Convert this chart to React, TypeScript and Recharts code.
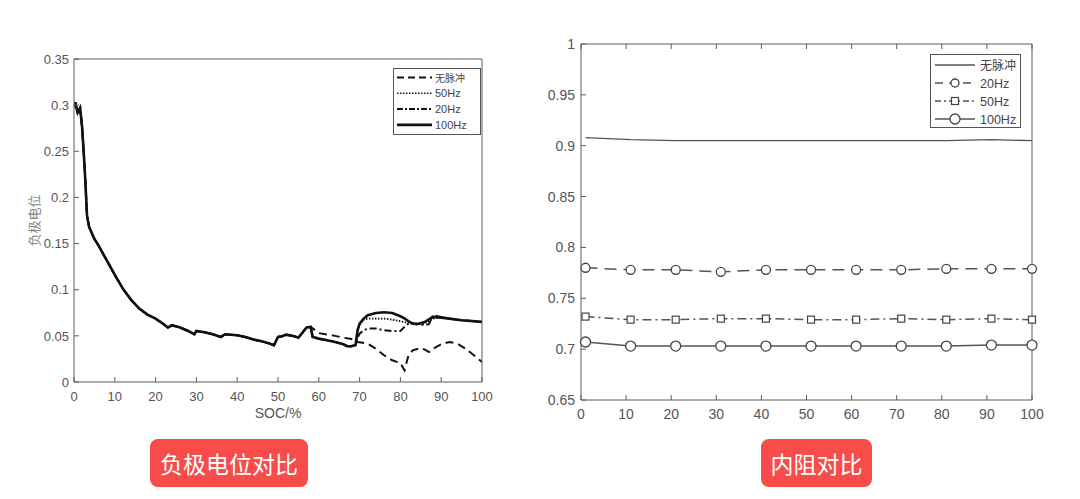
import React from 'react';
import { LineChart, Line, XAxis, YAxis, Legend } from 'recharts';

// ---- left chart: 负极电位 vs SOC ----
const SOC_COMMON = [0, 0.3, 0.9, 1.5, 2, 2.6, 3.2, 3.7, 5, 6, 8, 10, 12, 14, 16, 18, 20, 22, 23, 24, 26, 28, 29.5, 30, 32, 34, 36, 37, 40, 42, 44, 46, 48, 49, 50, 51, 52, 54, 55, 57, 58, 58.5, 60, 62, 64, 66, 67, 68, 69];
const NEG_COMMON = [0.298, 0.303, 0.292, 0.297, 0.275, 0.233, 0.18, 0.168, 0.155, 0.148, 0.132, 0.116, 0.101, 0.089, 0.0795, 0.073, 0.0687, 0.0626, 0.059, 0.0615, 0.059, 0.0553, 0.0517, 0.0553, 0.054, 0.0517, 0.0488, 0.0517, 0.0506, 0.0488, 0.046, 0.0441, 0.0416, 0.0398, 0.0488, 0.0495, 0.0513, 0.0495, 0.048, 0.059, 0.0597, 0.0488, 0.047, 0.0452, 0.0434, 0.0409, 0.0387, 0.0387, 0.04];

// 无脉冲 leaves the common curve at ~58%
const SOC_NOPULSE = [60, 62, 64, 66, 68, 69, 70, 72, 74, 76, 78, 80, 81, 82, 83, 85, 86, 87, 88, 90, 92, 94, 96, 98, 100];
const V_NOPULSE = [0.053, 0.0515, 0.05, 0.048, 0.0467, 0.043, 0.043, 0.0416, 0.036, 0.029, 0.0235, 0.0206, 0.0127, 0.029, 0.0343, 0.0369, 0.035, 0.0325, 0.036, 0.0409, 0.0434, 0.0416, 0.036, 0.029, 0.0217];

// pulsed runs split after ~69%
const SOC_PULSE = [69.5, 70, 71, 72, 74, 76, 78, 80, 81, 82, 83, 84, 86, 87, 88, 90, 92, 95, 100];
const V_100HZ = [0.056, 0.0633, 0.0687, 0.0723, 0.0748, 0.0756, 0.0748, 0.0712, 0.069, 0.0658, 0.0633, 0.0626, 0.0651, 0.068, 0.0705, 0.0698, 0.0687, 0.0669, 0.0651];
const V_50HZ = [0.055, 0.062, 0.0676, 0.0687, 0.0687, 0.0687, 0.0676, 0.0658, 0.065, 0.064, 0.063, 0.0626, 0.0633, 0.066, 0.0687, 0.0705, 0.0687, 0.0669, 0.0651];
const V_20HZ = [0.048, 0.0524, 0.056, 0.0579, 0.0579, 0.056, 0.0553, 0.0553, 0.0597, 0.0633, 0.0633, 0.0633, 0.0615, 0.0626, 0.0723, 0.0705, 0.0687, 0.0669, 0.0651];

const SOC_TICKS = [0, 10, 20, 30, 40, 50, 60, 70, 80, 90, 100];
const NEG_TICKS = [0, 0.05, 0.1, 0.15, 0.2, 0.25, 0.3, 0.35];

// ---- right chart: 内阻 ----
const CYCLE = [1, 11, 21, 31, 41, 51, 61, 71, 81, 91, 100];
const R_NONE = [0.908, 0.906, 0.905, 0.905, 0.905, 0.905, 0.905, 0.905, 0.905, 0.906, 0.905];
const R_20HZ = [0.78, 0.778, 0.778, 0.776, 0.778, 0.778, 0.778, 0.778, 0.779, 0.779, 0.779];
const R_50HZ = [0.732, 0.729, 0.729, 0.73, 0.73, 0.729, 0.729, 0.73, 0.729, 0.73, 0.729];
const R_100HZ = [0.707, 0.703, 0.703, 0.703, 0.703, 0.703, 0.703, 0.703, 0.703, 0.704, 0.704];
const R_TICKS = [0.65, 0.7, 0.75, 0.8, 0.85, 0.9, 0.95, 1];

const pts = (xs: number[], ys: number[]) => xs.map((x, i) => ({ x, y: ys[i] }));
const common = pts(SOC_COMMON, NEG_COMMON);
const noPulse = [...common.filter((p) => p.x <= 58), ...pts(SOC_NOPULSE, V_NOPULSE)];
const hz50 = [...common, ...pts(SOC_PULSE, V_50HZ)];
const hz20 = [...common, ...pts(SOC_PULSE, V_20HZ)];
const hz100 = [...common, ...pts(SOC_PULSE, V_100HZ)];

const resist = CYCLE.map((x, i) => ({ x, none: R_NONE[i], hz20: R_20HZ[i], hz50: R_50HZ[i], hz100: R_100HZ[i] }));

const FRAME = '#5c5c5c';
const LINE = { stroke: FRAME, strokeWidth: 1 };
const LATIN = '"Liberation Sans", Arial, sans-serif';
const CJK = '"Noto Sans CJK SC", sans-serif';
const TS = 5; // tick length (drawn inward, matlab style)

// recharts puts the label at axis +/- (tickSize + tickMargin); walk back to the axis and draw the mark inside
type Side = 'bottom' | 'left' | 'top' | 'right';
const inTick = (side: Side, margin: number, fontSize = 13) => (p: any) => {
  const { x, y, payload } = p;
  let line;
  let label = null;
  if (side === 'bottom') {
    const ay = y - TS - margin;
    line = <line x1={x} x2={x} y1={ay} y2={ay - TS} {...LINE} />;
    label = <text x={x} y={y} dy="0.71em" textAnchor="middle" fontSize={fontSize} fill="#555" fontFamily={LATIN}>{payload.value}</text>;
  } else if (side === 'left') {
    const ax = x + TS + margin;
    line = <line x1={ax} x2={ax + TS} y1={y} y2={y} {...LINE} />;
    label = <text x={x} y={y} dy="0.36em" textAnchor="end" fontSize={fontSize} fill="#555" fontFamily={LATIN}>{payload.value}</text>;
  } else if (side === 'top') {
    const ay = y + TS + margin;
    line = <line x1={x} x2={x} y1={ay} y2={ay + TS} {...LINE} />;
  } else {
    const ax = x - TS - margin;
    line = <line x1={ax} x2={ax - TS} y1={y} y2={y} {...LINE} />;
  }
  return <g>{line}{label}</g>;
};

function LeftLegend() {
  const rows = [
    { name: '无脉冲', dash: '7 4', w: 2, cjk: true },
    { name: '50Hz', dash: '1.5 1.5', w: 1.6, cjk: false },
    { name: '20Hz', dash: '6 2 2 2', w: 2, cjk: false },
    { name: '100Hz', dash: undefined, w: 2.6, cjk: false },
  ];
  return (
    <svg width={88} height={67} style={{ display: 'block' }}>
      <rect x={0.5} y={0.5} width={87} height={66} fill="#fff" stroke="#555" />
      {rows.map((r, i) => {
        const y = 9.5 + i * 15.8;
        return (
          <g key={r.name}>
            <line x1={4} x2={39} y1={y} y2={y} stroke="#111" strokeWidth={r.w} strokeDasharray={r.dash} />
            <text x={42} y={y + 4} fontSize={r.cjk ? 10 : 11} fill="#444" fontFamily={r.cjk ? CJK : LATIN}>{r.name}</text>
          </g>
        );
      })}
    </svg>
  );
}

function RightLegend() {
  const rows = [
    { name: '无脉冲', dash: undefined, mark: '' },
    { name: '20Hz', dash: '8 6', mark: 'c' },
    { name: '50Hz', dash: '6 3 2 3', mark: 's' },
    { name: '100Hz', dash: undefined, mark: 'C' },
  ];
  return (
    <svg width={91} height={74} style={{ display: 'block' }}>
      <rect x={0.5} y={0.5} width={90} height={73} fill="#fff" stroke="#555" />
      {rows.map((r, i) => {
        const y = 11 + i * 18;
        return (
          <g key={r.name}>
            <line x1={5} x2={45} y1={y} y2={y} stroke="#555" strokeWidth={1.3} strokeDasharray={r.dash} />
            {r.mark === 'c' && <circle cx={25} cy={y} r={4} fill="#fff" stroke="#444" strokeWidth={1.3} />}
            {r.mark === 'C' && <circle cx={25} cy={y} r={5} fill="#fff" stroke="#444" strokeWidth={1.3} />}
            {r.mark === 's' && <rect x={21.5} y={y - 3.5} width={7} height={7} fill="#fff" stroke="#444" strokeWidth={1.2} />}
            <text x={50} y={y + 4.5} fontSize={i === 0 ? 12 : 12.5} fill="#444" fontFamily={i === 0 ? CJK : LATIN}>{r.name}</text>
          </g>
        );
      })}
    </svg>
  );
}

const YLabel = ({ viewBox }: any) => {
  const cx = 33;
  const cy = viewBox.y + viewBox.height / 2;
  return (
    <text x={cx} y={cy} transform={`rotate(-90 ${cx} ${cy})`} textAnchor="middle" dominantBaseline="central"
      fontSize={13} fill="#888" fontFamily={CJK}>负极电位</text>
  );
};

const squareDot = (p: any) => (
  <rect key={`sq-${p.index}`} x={p.cx - 3.5} y={p.cy - 3.5} width={7} height={7} fill="#fff" stroke="#444" strokeWidth={1.2} />
);

const badge = (left: number, width: number): React.CSSProperties => ({
  position: 'absolute', left, top: 439, width, height: 48, borderRadius: 8, background: '#f84c4a',
  color: '#fff', fontFamily: CJK, fontSize: 23, display: 'flex', alignItems: 'center', justifyContent: 'center',
});

export default function App() {
  return (
    <div style={{ position: 'absolute', left: 0, top: 0, width: 1080, height: 499, background: '#fff', overflow: 'hidden' }}>
      <div style={{ position: 'absolute', left: 0, top: 0 }}>
        <LineChart width={500} height={430} margin={{ top: 58, right: 17, bottom: 0, left: 0 }}>
          <XAxis dataKey="x" type="number" domain={[0, 100]} ticks={SOC_TICKS} interval={0} height={48} tickSize={TS} tickMargin={5}
            tick={inTick('bottom', 5)} axisLine={LINE} tickLine={false} allowDataOverflow
            label={{ value: 'SOC/%', position: 'insideBottom', offset: 12, fontSize: 14, fill: '#555', fontFamily: LATIN }} />
          <XAxis xAxisId="top" orientation="top" dataKey="x" type="number" domain={[0, 100]} ticks={SOC_TICKS} interval={0} height={1}
            tickSize={TS} tickMargin={0} tick={inTick('top', 0)} axisLine={LINE} tickLine={false} />
          <YAxis type="number" domain={[0, 0.35]} ticks={NEG_TICKS} interval={0} width={74} tickSize={TS} tickMargin={0}
            tick={inTick('left', 0)} axisLine={LINE} tickLine={false} label={<YLabel />} />
          <YAxis yAxisId="right" orientation="right" type="number" domain={[0, 0.35]} ticks={NEG_TICKS} interval={0} width={1}
            tickSize={TS} tickMargin={0} tick={inTick('right', 0)} axisLine={LINE} tickLine={false} />
          <Legend content={<LeftLegend />} layout="horizontal" verticalAlign="middle" align="center"
            wrapperStyle={{ left: 393, top: 68, width: 88, height: 67 }} />
          <Line data={noPulse} dataKey="y" name="无脉冲" stroke="#111" strokeWidth={2} strokeDasharray="8 5" dot={false} isAnimationActive={false} />
          <Line data={hz50} dataKey="y" name="50Hz" stroke="#111" strokeWidth={1.8} strokeDasharray="1.5 1.5" dot={false} isAnimationActive={false} />
          <Line data={hz20} dataKey="y" name="20Hz" stroke="#111" strokeWidth={2} strokeDasharray="7 3 2 3" dot={false} isAnimationActive={false} />
          <Line data={hz100} dataKey="y" name="100Hz" stroke="#111" strokeWidth={2.6} dot={false} isAnimationActive={false} />
        </LineChart>
      </div>

      <div style={{ position: 'absolute', left: 520, top: 0 }}>
        <LineChart width={560} height={430} data={resist} margin={{ top: 43, right: 47, bottom: 0, left: 0 }}>
          <XAxis dataKey="x" type="number" domain={[0, 100]} ticks={SOC_TICKS} interval={0} height={30} tickSize={TS} tickMargin={4}
            tick={inTick('bottom', 4, 14)} axisLine={LINE} tickLine={false} />
          <XAxis xAxisId="top" orientation="top" dataKey="x" type="number" domain={[0, 100]} ticks={SOC_TICKS} interval={0} height={1}
            tickSize={TS} tickMargin={0} tick={inTick('top', 0)} axisLine={LINE} tickLine={false} />
          <YAxis type="number" domain={[0.65, 1]} ticks={R_TICKS} interval={0} width={61} tickSize={TS} tickMargin={1}
            tick={inTick('left', 1, 14)} axisLine={LINE} tickLine={false} />
          <YAxis yAxisId="right" orientation="right" type="number" domain={[0.65, 1]} ticks={R_TICKS} interval={0} width={1}
            tickSize={TS} tickMargin={0} tick={inTick('right', 0)} axisLine={LINE} tickLine={false} />
          <Legend content={<RightLegend />} layout="horizontal" verticalAlign="middle" align="center"
            wrapperStyle={{ left: 410, top: 54, width: 91, height: 74 }} />
          <Line dataKey="none" name="无脉冲" stroke="#555" strokeWidth={1.3} dot={false} isAnimationActive={false} />
          <Line dataKey="hz20" name="20Hz" stroke="#555" strokeWidth={1.5} strokeDasharray="12 7"
            dot={{ r: 4.5, fill: '#fff', stroke: '#444', strokeWidth: 1.3, strokeDasharray: 'none' }} isAnimationActive={false} />
          <Line dataKey="hz50" name="50Hz" stroke="#555" strokeWidth={1.5} strokeDasharray="9 4 2 4"
            dot={squareDot} isAnimationActive={false} />
          <Line dataKey="hz100" name="100Hz" stroke="#555" strokeWidth={1.5}
            dot={{ r: 5, fill: '#fff', stroke: '#444', strokeWidth: 1.3, strokeDasharray: 'none' }} isAnimationActive={false} />
        </LineChart>
      </div>

      <div style={badge(150, 158)}>负极电位对比</div>
      <div style={badge(761, 111)}>内阻对比</div>
    </div>
  );
}
